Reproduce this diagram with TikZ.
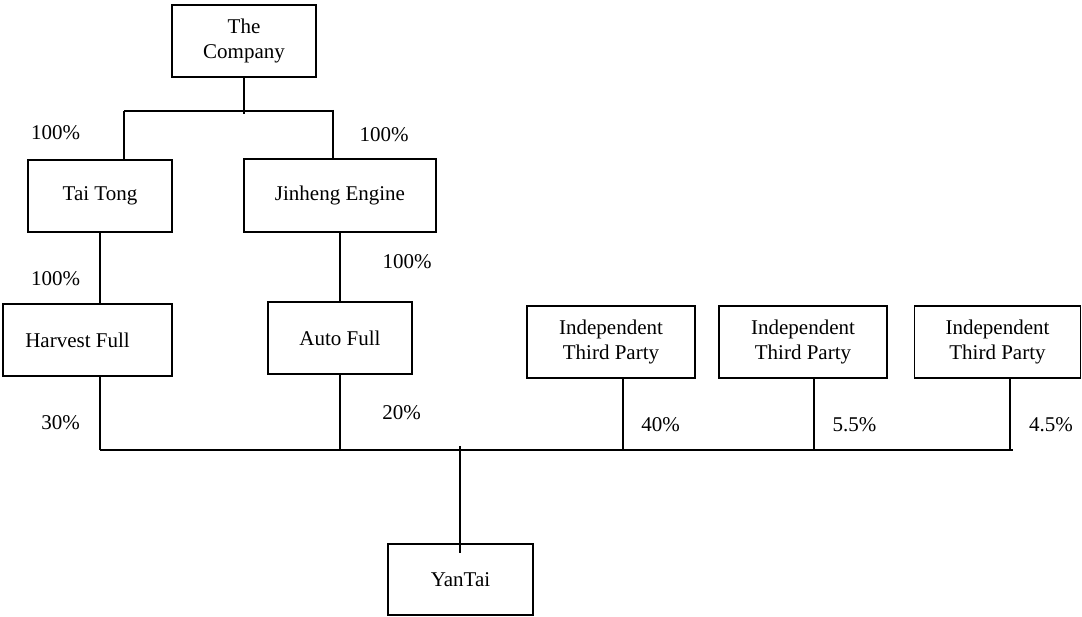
\documentclass[tikz,border=0pt]{standalone}
\usepackage{fontspec}
\setmainfont{Liberation Serif}
\begin{document}
\begin{tikzpicture}[x=1pt,y=-1pt,
  box/.style={draw, line width=1.8pt, minimum height=72pt, align=center, inner sep=0pt, font=\fontsize{21}{25}\selectfont},
  lbl/.style={inner sep=0pt, font=\fontsize{21}{25}\selectfont},
  ln/.style={line width=1.5pt}]
\useasboundingbox (0,0) rectangle (1082,617);
% boxes
\node[box, minimum width=144pt] (company) at (244,41) {The\\Company};
\node[box, minimum width=144pt] (taitong) at (100,196) {Tai Tong};
\node[box, minimum width=192pt, minimum height=73pt] (jinheng) at (340,195.5) {Jinheng Engine};
\node[box, minimum width=169pt] (harvest) at (87.5,340) {Harvest Full\hspace*{20pt}};
\node[box, minimum width=144pt] (autofull) at (340,338) {Auto Full};
\node[box, minimum width=168pt] (itp1) at (611,342) {Independent\\Third Party};
\node[box, minimum width=168pt] (itp2) at (803,342) {Independent\\Third Party};
\node[box, minimum width=166pt] (itp3) at (997.5,342) {Independent\\Third Party};
\node[box, minimum width=145pt, minimum height=71pt] (yantai) at (460.5,579.5) {YanTai};
% junction coordinates
\coordinate (cj) at (244,114);
\coordinate (hl) at (124,111);
\coordinate (hr) at (332,111);
\coordinate (hrv) at (333,110);
\coordinate (bl) at (100,450);
\coordinate (br) at (1013,450);
\coordinate (ytop) at (460,446);
\coordinate (yin) at (460,553);
% top tree
\draw[ln] (company.south) -- (cj);
\draw[ln] (hl) -- (hr);
\draw[ln] (hl) -- (taitong.north -| hl);
\draw[ln] (hrv) -- (jinheng.north -| hrv);
\draw[ln] (taitong.south) -- (harvest.north -| taitong.south);
\draw[ln] (jinheng.south) -- (autofull.north);
% bottom bus
\draw[ln] (bl) -- (br);
\draw[ln] (harvest.south -| bl) -- (bl);
\draw[ln] (autofull.south) -- (autofull.south |- bl);
\draw[ln] (itp1.south -| 623,0) -- (623,450);
\draw[ln] (itp2.south -| 814,0) -- (814,450);
\draw[ln] (itp3.south -| 1010,0) -- (1010,450);
\draw[ln] (ytop) -- (yin);
% labels
\node[lbl] (l1) at (55.5,133) {100\%};
\node[lbl] (l2) at (384,135) {100\%};
\node[lbl] (l3) at (55.5,279) {100\%};
\node[lbl] (l4) at (407,262) {100\%};
\node[lbl] (l5) at (60.5,423) {30\%};
\node[lbl] (l6) at (401.5,413) {20\%};
\node[lbl] (l7) at (660.5,425) {40\%};
\node[lbl] (l8) at (854.5,425) {5.5\%};
\node[lbl] (l9) at (1051,425) {4.5\%};
\end{tikzpicture}
\end{document}
